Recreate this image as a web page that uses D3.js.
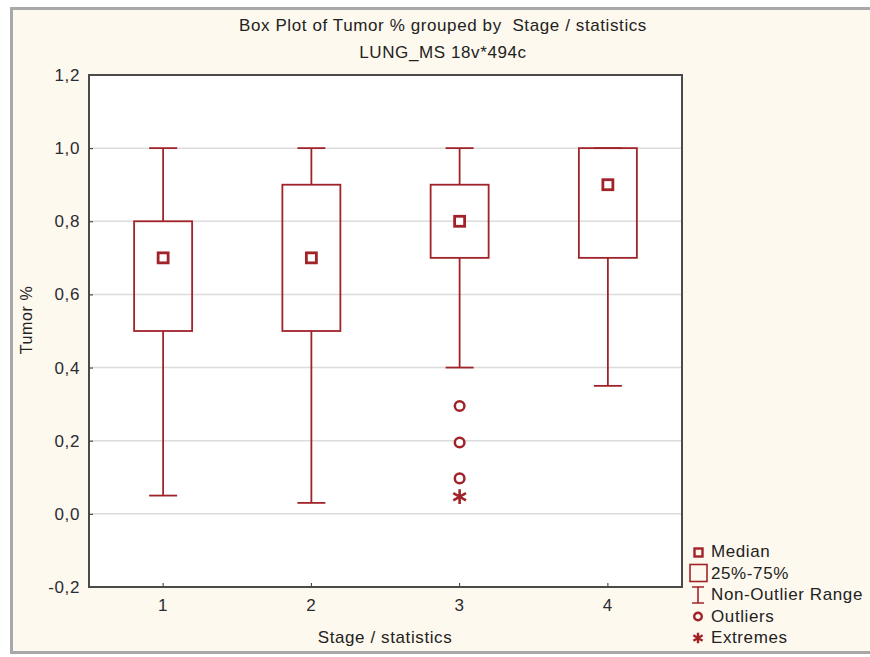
<!DOCTYPE html>
<html>
<head>
<meta charset="utf-8">
<script src="https://cdn.jsdelivr.net/npm/d3@7"></script>
<style>
  body { margin: 0; background: #fff; }
  #container { width: 870px; height: 657px; }
  text { font-family: "Liberation Sans", Arial, sans-serif; letter-spacing: 0.6px; white-space: pre; }
</style>
</head>
<body>
<div id="container"></div>
<script>
const width = 870;
const height = 657;

// data
const stages = ["1", "2", "3", "4"];
const mins = [0.05, 0.03, 0.40, 0.35];
const q1s = [0.50, 0.50, 0.70, 0.70];
const medians = [0.70, 0.70, 0.80, 0.90];
const q3s = [0.80, 0.90, 0.90, 1.00];
const maxs = [1.00, 1.00, 1.00, 1.00];
const outliers = [[], [], [0.295, 0.195, 0.097], []];
const extremes = [[], [], [0.047], []];
const yTicks = [-0.2, 0, 0.2, 0.4, 0.6, 0.8, 1.0, 1.2];
const legendItems = ["Median", "25%-75%", "Non-Outlier Range", "Outliers", "Extremes"];

const red = "#a0232a";
const margin = {left: 89, right: 188, top: 75, bottom: 70};

const svg = d3.create("svg")
    .attr("width", width)
    .attr("height", height)
    .attr("xmlns", "http://www.w3.org/2000/svg");

// panel background + border (left, top, bottom)
svg.append("rect").attr("x", 10).attr("y", 7).attr("width", width - 10).attr("height", 646).attr("fill", "#fef9ee");
svg.append("path").attr("d", `M${width},8.5 H11.5 V652.5 H${width}`)
    .attr("fill", "none").attr("stroke", "#a8a8a8").attr("stroke-width", 3);

const x = d3.scaleBand().domain(stages).range([margin.left, width - margin.right]);
const y = d3.scaleLinear().domain([-0.2, 1.2]).range([height - margin.bottom, margin.top]);

// plot area
svg.append("rect")
    .attr("x", margin.left).attr("y", margin.top)
    .attr("width", x.range()[1] - margin.left).attr("height", y(-0.2) - y(1.2))
    .attr("fill", "#fff");

// gridlines
svg.append("g").selectAll("line")
    .data(yTicks.filter(d => d > -0.2 && d < 1.2))
    .join("line")
    .attr("x1", margin.left).attr("x2", x.range()[1])
    .attr("y1", d => y(d)).attr("y2", d => y(d))
    .attr("stroke", "#dcdcdc").attr("stroke-width", 1.5);

// axes
const fmt = d => d3.format(".1f")(d).replace(".", ",").replace("−", "-");
const yAxis = svg.append("g")
    .attr("transform", `translate(${margin.left},0)`)
    .call(d3.axisLeft(y).tickValues(yTicks).tickFormat(fmt).tickSize(-4).tickPadding(9));
const xAxis = svg.append("g")
    .attr("transform", `translate(0,${y(-0.2)})`)
    .call(d3.axisBottom(x).tickSize(-4).tickPadding(12));
[yAxis, xAxis].forEach(a => {
    a.select(".domain").remove();
    a.selectAll("line").attr("stroke", "#333");
    a.selectAll("text").attr("font-size", 17).attr("fill", "#2b2b33").attr("font-family", "Liberation Sans, Arial, sans-serif");
});

// frame
svg.append("rect")
    .attr("x", margin.left).attr("y", margin.top)
    .attr("width", x.range()[1] - margin.left).attr("height", y(-0.2) - y(1.2))
    .attr("fill", "none").attr("stroke", "#4a4a4a").attr("stroke-width", 2);

// boxes
const boxW = 58, capW = 28;
const g = svg.append("g").attr("stroke", red).attr("fill", "none");
stages.forEach((s, i) => {
    const cx = x(s) + x.bandwidth() / 2;
    g.append("line").attr("x1", cx).attr("x2", cx).attr("y1", y(maxs[i])).attr("y2", y(q3s[i])).attr("stroke-width", 1.8);
    g.append("line").attr("x1", cx).attr("x2", cx).attr("y1", y(q1s[i])).attr("y2", y(mins[i])).attr("stroke-width", 1.8);
    g.append("line").attr("x1", cx - capW / 2).attr("x2", cx + capW / 2).attr("y1", y(maxs[i])).attr("y2", y(maxs[i])).attr("stroke-width", 1.8);
    g.append("line").attr("x1", cx - capW / 2).attr("x2", cx + capW / 2).attr("y1", y(mins[i])).attr("y2", y(mins[i])).attr("stroke-width", 1.8);
    g.append("rect").attr("x", cx - boxW / 2).attr("y", y(q3s[i]))
        .attr("width", boxW).attr("height", y(q1s[i]) - y(q3s[i])).attr("stroke-width", 1.8);
    g.append("rect").attr("x", cx - 5).attr("y", y(medians[i]) - 5)
        .attr("width", 10).attr("height", 10).attr("stroke-width", 2.8).attr("fill", "#fff");
    outliers[i].forEach(v => {
        g.append("circle").attr("cx", cx).attr("cy", y(v)).attr("r", 4.8).attr("stroke-width", 2.5).attr("fill", "#fff");
    });
    extremes[i].forEach(v => {
        g.append("path").attr("transform", `translate(${cx},${y(v)})`)
            .attr("d", d3.symbol(d3.symbolAsterisk, 150)()).attr("stroke-width", 2.6);
    });
});

// titles
svg.append("text").attr("x", 443).attr("y", 31).attr("text-anchor", "middle")
    .attr("font-size", 17).attr("fill", "#222")
    .text("Box Plot of Tumor % grouped by  Stage / statistics");
svg.append("text").attr("x", 443).attr("y", 58).attr("text-anchor", "middle")
    .attr("font-size", 17).attr("fill", "#222")
    .text("LUNG_MS 18v*494c");
svg.append("text").attr("transform", `translate(32,320) rotate(-90)`)
    .attr("text-anchor", "middle").attr("font-size", 16).attr("fill", "#222")
    .text("Tumor %");
svg.append("text").attr("x", 385).attr("y", 643)
    .attr("text-anchor", "middle").attr("font-size", 17).attr("fill", "#222")
    .text("Stage / statistics");

// legend
const lg = svg.append("g").attr("transform", "translate(698,551)");
const rowH = 21.5;
legendItems.forEach((t, i) => {
    const row = lg.append("g").attr("transform", `translate(0,${i * rowH})`);
    row.append("text").attr("x", 13).attr("y", 6).attr("font-size", 17).attr("fill", "#222").text(t);
    const ic = row.append("g").attr("stroke", red).attr("fill", "none");
    if (i === 0) ic.append("rect").attr("x", -3.5).attr("y", -2.5).attr("width", 8).attr("height", 8).attr("stroke-width", 2.4);
    if (i === 1) ic.append("rect").attr("x", -8).attr("y", -8).attr("width", 17).attr("height", 17).attr("stroke-width", 1.6);
    if (i === 2) ic.append("path").attr("d", "M-6,-7 H6 M0,-7 V9 M-6,9 H6").attr("stroke-width", 1.6);
    if (i === 3) ic.append("circle").attr("cx", 0).attr("cy", 1).attr("r", 3.8).attr("stroke-width", 2.4);
    if (i === 4) ic.append("path").attr("transform", "translate(0,1)").attr("d", d3.symbol(d3.symbolAsterisk, 80)()).attr("stroke-width", 2.4);
});

document.getElementById("container").append(svg.node());
</script>
</body>
</html>
